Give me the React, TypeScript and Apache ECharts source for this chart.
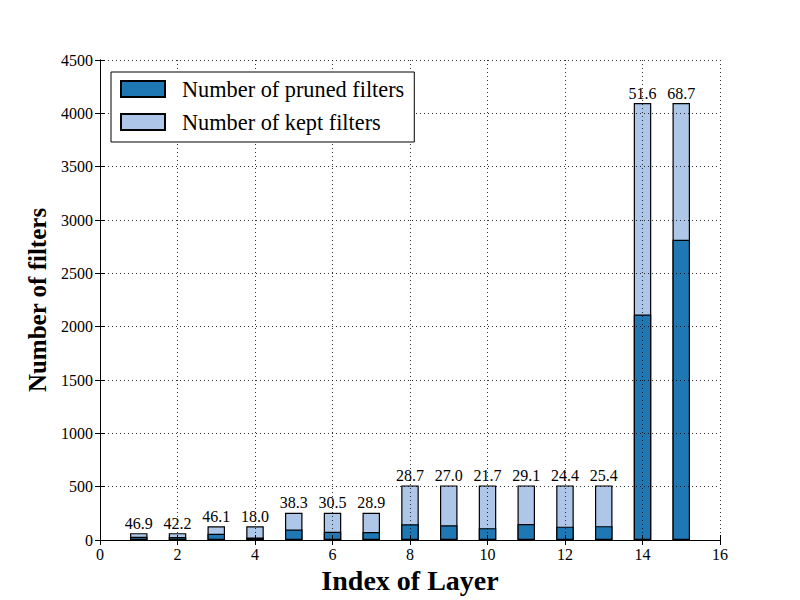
import React, { useEffect, useRef } from "react";
import * as echarts from "echarts";

const layers = [1, 2, 3, 4, 5, 6, 7, 8, 9, 10, 11, 12, 13, 14, 15];
const pruned = [30, 27, 59, 23, 98, 78, 74, 147, 138, 111, 149, 125, 130, 2114, 2814];
const kept = [34, 37, 69, 105, 158, 178, 182, 365, 374, 401, 363, 387, 382, 1982, 1282];
const pctLabels = ["46.9", "42.2", "46.1", "18.0", "38.3", "30.5", "28.9", "28.7", "27.0", "21.7", "29.1", "24.4", "25.4", "51.6", "68.7"];

const FONT = "Liberation Serif";

export default function App() {
  const ref = useRef<HTMLDivElement>(null);
  useEffect(() => {
    if (!ref.current) return;
    const chart = echarts.init(ref.current, null, { renderer: "svg" });
    const tick = { show: true, inside: true, length: 5, lineStyle: { color: "#000", width: 1 } };
    const split = { show: true, lineStyle: { color: "#000", type: [1, 3], width: 0.8 } };
    chart.setOption({
      animation: false,
      backgroundColor: "#fff",
      textStyle: { fontFamily: FONT },
      grid: { left: 100, right: 80, top: 60, bottom: 60, containLabel: false, outerBoundsMode: "none" },
      legend: {
        left: 111,
        top: 72,
        orient: "vertical",
        padding: [6, 10, 9, 9],
        itemWidth: 44,
        itemHeight: 16,
        itemGap: 11,
        borderColor: "#000",
        borderWidth: 1,
        borderRadius: 0,
        backgroundColor: "#fff",
        icon: "rect",
        textStyle: { fontFamily: FONT, fontSize: 22.3, color: "#000", padding: [0, 0, 0, 12] },
        data: ["Number of pruned filters", "Number of kept filters"],
        z: 20,
      },
      xAxis: [
        {
          type: "value",
          min: 0,
          max: 16,
          interval: 2,
          z: 5,
          name: "Index of Layer",
          nameLocation: "middle",
          nameGap: 22,
          nameTextStyle: { fontFamily: FONT, fontSize: 28, fontWeight: "bold", color: "#000" },
          axisLine: { show: true, lineStyle: { color: "#000", width: 1 } },
          axisTick: tick,
          axisLabel: { fontFamily: FONT, fontSize: 16, color: "#000", margin: 6 },
          splitLine: split,
        },
        {
          type: "value",
          position: "top",
          min: 0,
          max: 16,
          interval: 2,
          axisLine: { show: true, lineStyle: { color: "#000", width: 1 } },
          axisTick: tick,
          axisLabel: { show: false },
          splitLine: { show: false },
        },
      ],
      yAxis: [
        {
          type: "value",
          min: 0,
          max: 4500,
          interval: 500,
          z: 5,
          name: "Number of filters",
          nameLocation: "middle",
          nameGap: 48,
          nameTextStyle: { fontFamily: FONT, fontSize: 25, fontWeight: "bold", color: "#000" },
          axisLine: { show: true, lineStyle: { color: "#000", width: 1 } },
          axisTick: tick,
          axisLabel: { fontFamily: FONT, fontSize: 16, color: "#000", margin: 7, formatter: (v: number) => String(v) },
          splitLine: split,
        },
        {
          type: "value",
          position: "right",
          min: 0,
          max: 4500,
          interval: 500,
          axisLine: { show: true, lineStyle: { color: "#000", width: 1 } },
          axisTick: tick,
          axisLabel: { show: false },
          splitLine: { show: false },
        },
      ],
      series: [
        {
          name: "Number of kept filters",
          type: "bar",
          barWidth: 17.5,
          barGap: "-100%",
          itemStyle: { color: "#aec7e8", borderColor: "#000", borderWidth: 1.2 },
          label: {
            show: true,
            position: "top",
            distance: 2,
            fontFamily: FONT,
            fontSize: 16,
            color: "#000",
            formatter: (p: any) => pctLabels[p.dataIndex],
          },
          data: layers.map((l, i) => [l, pruned[i] + kept[i]]),
        },
        {
          name: "Number of pruned filters",
          type: "bar",
          barWidth: 17.5,
          barGap: "-100%",
          itemStyle: { color: "#1f77b4", borderColor: "#000", borderWidth: 1.2 },
          data: layers.map((l, i) => [l, pruned[i]]),
        },
      ],
    });
    return () => chart.dispose();
  }, []);
  return <div ref={ref} style={{ position: "fixed", left: 0, top: 0, width: 800, height: 600 }} />;
}
